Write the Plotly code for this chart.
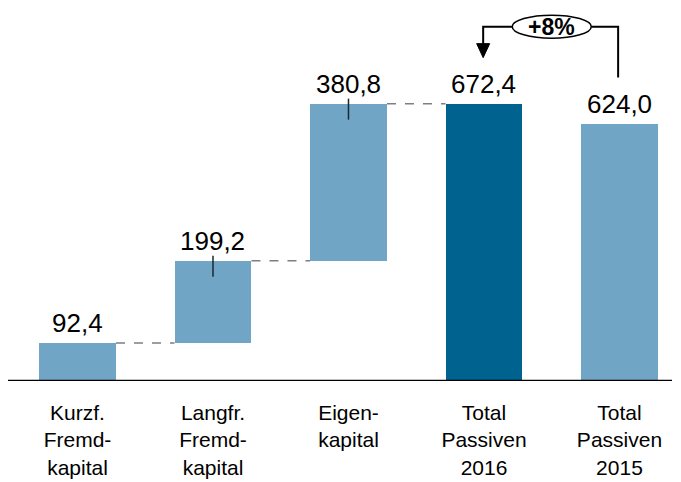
import plotly.graph_objects as go

categories = ["Kurzf.<br>Fremd-<br>kapital", "Langfr.<br>Fremd-<br>kapital", "Eigen-<br>kapital",
              "Total<br>Passiven<br>2016", "Total<br>Passiven<br>2015"]
label_values = [92.4, 199.2, 380.8, 672.4, 624.0]
segment_bases = [0.0, 92.4, 291.6, 0.0, 0.0]
segment_tops = [92.4, 291.6, 672.4, 672.4, 624.0]
bar_colors = ["#71A5C6", "#71A5C6", "#71A5C6", "#00628F", "#71A5C6"]

# page has an 8px body margin, so the figure is drawn 8px smaller
W, H = 673, 474
BW = 0.568
PX = 0.4125  # px per unit (for decoration offsets)
UX = 135.5   # px per category

xs = list(range(len(categories)))
fig = go.Figure()
fig.add_trace(go.Bar(
    x=xs, y=[t - b for t, b in zip(segment_tops, segment_bases)], base=segment_bases,
    width=BW, marker=dict(color=bar_colors, line=dict(width=0)), hoverinfo="skip",
))

shapes = []
annotations = []

# connectors
for i in range(3):
    shapes.append(dict(type="line", xref="x", yref="y",
                       x0=i + BW / 2, x1=i + 1 - BW / 2, y0=segment_tops[i], y1=segment_tops[i],
                       line=dict(color="#7f7f7f", width=1.5, dash="dash")))

# leader ticks inside bars
for i in (1, 2):
    shapes.append(dict(type="line", xref="x", yref="y", x0=i, x1=i,
                       y0=segment_tops[i] + 5 / PX, y1=segment_tops[i] - 16 / PX,
                       line=dict(color="#1b2733", width=1.5)))

# value labels
for i, v in enumerate(label_values):
    annotations.append(dict(x=i, y=segment_tops[i], xref="x", yref="y", showarrow=False,
                            text=f"{v:.1f}".replace(".", ","), yanchor="bottom", yshift=3,
                            font=dict(family="Liberation Sans, Arial", size=26, color="black")))

# baseline
shapes.append(dict(type="line", xref="paper", yref="y", x0=0, x1=664 / W, y0=0, y1=0,
                   line=dict(color="black", width=2.5)))

# growth bracket
t16, t15 = label_values[3], label_values[4]
pct = round((t16 / t15 - 1) * 100)
ybr = t16 + 77 / PX
ex, ehw, ehh = 3.5, 39.5 / UX, 11.5 / PX
lc = dict(color="black", width=2)
shapes.append(dict(type="circle", xref="x", yref="y", x0=ex - ehw, x1=ex + ehw,
                   y0=ybr - ehh, y1=ybr + ehh, line=dict(color="black", width=1.5),
                   fillcolor="white"))
shapes.append(dict(type="path", xref="x", yref="y",
                   path=f"M {ex + ehw},{ybr} L {4 - 0.01},{ybr} L {4 - 0.01},{t15 + 46 / PX}", line=lc))
tip = t16 + 46 / PX
shapes.append(dict(type="path", xref="x", yref="y",
                   path=f"M {ex - ehw},{ybr} L {3 - 0.006},{ybr} L {3 - 0.006},{tip + 12 / PX}", line=lc))
hw = 6.5 / UX
shapes.append(dict(type="path", xref="x", yref="y",
                   path=f"M {3 - 0.006 - hw},{tip + 14 / PX} L {3 - 0.006 + hw},{tip + 14 / PX} L {3 - 0.006},{tip} Z",
                   fillcolor="black", line=dict(color="black", width=1)))
annotations.append(dict(x=ex, y=ybr, xref="x", yref="y", showarrow=False,
                        text=f"<b>+{pct}%</b>",
                        font=dict(family="Liberation Sans, Arial", size=23, color="black")))

fig.update_layout(
    width=W, height=H, margin=dict(l=0, r=0, t=0, b=101),
    paper_bgcolor="white", plot_bgcolor="white", showlegend=False, bargap=0,
    shapes=shapes, annotations=annotations,
    xaxis=dict(range=[-69.5 / UX, 4.454], tickvals=xs, ticktext=categories, showgrid=False,
               zeroline=False, showline=False, ticks="", ticklabelstandoff=17, automargin=False,
               tickfont=dict(family="Liberation Sans Narrow, Arial Narrow, Liberation Sans", size=21, color="black")),
    yaxis=dict(range=[0, 373 / PX], visible=False, fixedrange=True),
)
fig.write_html("out.html")
